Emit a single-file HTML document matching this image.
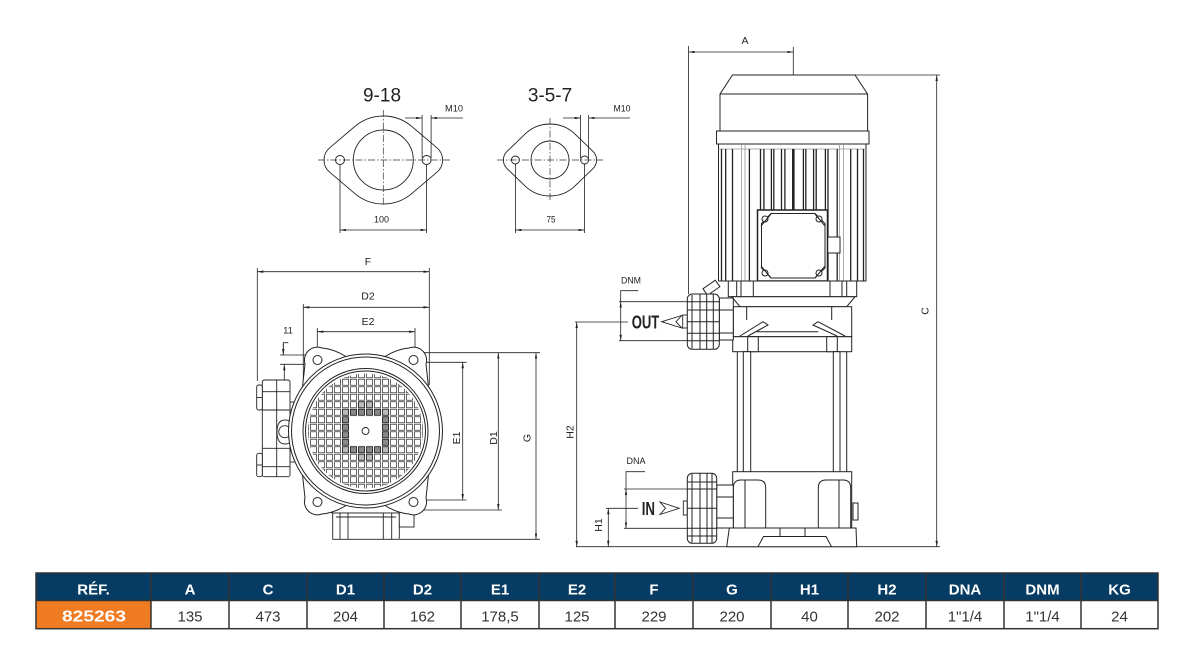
<!DOCTYPE html>
<html><head><meta charset="utf-8"><style>
html,body{margin:0;padding:0;background:#fff;}
svg{display:block;}
text{font-family:"Liberation Sans",sans-serif;}
</style></head><body>
<svg width="1191" height="662" viewBox="0 0 1191 662" xmlns="http://www.w3.org/2000/svg">
<defs>
<marker id="ar" viewBox="0 0 10 4" refX="10" refY="2" markerWidth="6" markerHeight="2.4" markerUnits="userSpaceOnUse" orient="auto-start-reverse"><path d="M0,0L10,2L0,4z" fill="#222"/></marker>
<pattern id="grid" x="349.5" y="416" width="8" height="7.5" patternUnits="userSpaceOnUse"><rect x="1" y="0.75" width="6" height="6" fill="#fff" stroke="#333" stroke-width="0.75"/></pattern>
<path id="lobe" d="M302.5,387 L305,364 A13,13 0 0 1 322,348 Q334,349 346,356.5" fill="#fff" stroke="#222" stroke-width="1"/>
</defs>
<rect width="1191" height="662" fill="#fff"/>

<!-- ============ FLANGES ============ -->
<g fill="none" stroke="#222" stroke-width="0.9">
  <path d="M329.65,147.8 L354.85,126.44 A44,44 0 0 1 411.75,126.44 L436.95,147.8 A16,16 0 0 1 436.95,172.2 L411.75,193.56 A44,44 0 0 1 354.85,193.56 L329.65,172.2 A16,16 0 0 1 329.65,147.8Z"/>
  <circle cx="383.3" cy="160" r="30"/>
  <circle cx="340" cy="160" r="4.5"/>
  <circle cx="426.6" cy="160" r="4.5"/>
  <path d="M507.08,151.36 L525.03,134.07 A36,36 0 0 1 574.97,134.07 L592.92,151.36 A12,12 0 0 1 592.92,168.64 L574.97,185.93 A36,36 0 0 1 525.03,185.93 L507.08,168.64 A12,12 0 0 1 507.08,151.36Z"/>
  <circle cx="550" cy="160" r="19"/>
  <circle cx="515.4" cy="160" r="4"/>
  <circle cx="584.6" cy="160" r="4"/>
</g>
<g fill="none" stroke="#333" stroke-width="0.7" stroke-dasharray="7,2,1.5,2">
  <line x1="318" y1="160" x2="450" y2="160"/>
  <line x1="383.3" y1="110" x2="383.3" y2="206"/>
  <line x1="497" y1="160" x2="603" y2="160"/>
  <line x1="550" y1="118" x2="550" y2="201"/>
</g>
<g fill="none" stroke="#222" stroke-width="0.8">
  <line x1="340" y1="164" x2="340" y2="233"/>
  <line x1="426.6" y1="164" x2="426.6" y2="233"/>
  <line x1="340" y1="230" x2="426.6" y2="230" marker-start="url(#ar)" marker-end="url(#ar)"/>
  <line x1="515.4" y1="164" x2="515.4" y2="233"/>
  <line x1="584.6" y1="164" x2="584.6" y2="233"/>
  <line x1="515.4" y1="230" x2="584.6" y2="230" marker-start="url(#ar)" marker-end="url(#ar)"/>
  <line x1="422.1" y1="115" x2="422.1" y2="158"/>
  <line x1="431.1" y1="115" x2="431.1" y2="158"/>
  <line x1="405" y1="118" x2="422.1" y2="118" marker-end="url(#ar)"/>
  <line x1="463" y1="118" x2="431.1" y2="118" marker-end="url(#ar)"/>
  <line x1="580.6" y1="115" x2="580.6" y2="158"/>
  <line x1="588.6" y1="115" x2="588.6" y2="158"/>
  <line x1="563" y1="118" x2="580.6" y2="118" marker-end="url(#ar)"/>
  <line x1="630" y1="118" x2="588.6" y2="118" marker-end="url(#ar)"/>
</g>
<g fill="#222">
  <text x="382" y="101.7" font-size="19" text-anchor="middle">9-18</text>
  <text x="550" y="101.7" font-size="19" text-anchor="middle">3-5-7</text>
  <text x="454" y="111.5" font-size="9" text-anchor="middle" textLength="18" lengthAdjust="spacingAndGlyphs">M10</text>
  <text x="622" y="111.5" font-size="9" text-anchor="middle" textLength="17" lengthAdjust="spacingAndGlyphs">M10</text>
  <text x="381.5" y="222.7" font-size="9.5" text-anchor="middle" textLength="15" lengthAdjust="spacingAndGlyphs">100</text>
  <text x="551" y="222.7" font-size="9.5" text-anchor="middle" textLength="9" lengthAdjust="spacingAndGlyphs">75</text>
</g>

<!-- ============ TOP VIEW ============ -->
<g fill="none" stroke="#222" stroke-width="0.8">
  <line x1="257.3" y1="268" x2="257.3" y2="381"/>
  <line x1="429.3" y1="268" x2="429.3" y2="385"/>
  <line x1="257.3" y1="271.7" x2="429.3" y2="271.7" marker-start="url(#ar)" marker-end="url(#ar)"/>
  <line x1="303.3" y1="304" x2="303.3" y2="390"/>
  <line x1="303.3" y1="307.3" x2="429.3" y2="307.3" marker-start="url(#ar)" marker-end="url(#ar)"/>
  <line x1="317.3" y1="328" x2="317.3" y2="352"/>
  <line x1="415" y1="328" x2="415" y2="352"/>
  <line x1="317.3" y1="331.7" x2="415" y2="331.7" marker-start="url(#ar)" marker-end="url(#ar)"/>
  <polyline points="288.3,342.7 283.3,342.7 283.3,355"/>
  <line x1="283.3" y1="344" x2="283.3" y2="355" marker-end="url(#ar)"/>
  <line x1="280" y1="355" x2="316.7" y2="355"/>
  <line x1="280" y1="364.3" x2="311.7" y2="364.3"/>
  <line x1="284.3" y1="380.7" x2="284.3" y2="364.3" marker-end="url(#ar)"/>
  <line x1="425" y1="362.3" x2="466.5" y2="362.3"/>
  <line x1="420" y1="500" x2="466.5" y2="500"/>
  <line x1="462.7" y1="362.3" x2="462.7" y2="500" marker-start="url(#ar)" marker-end="url(#ar)"/>
  <line x1="417" y1="352.7" x2="540" y2="352.7"/>
  <line x1="413" y1="510" x2="502" y2="510"/>
  <line x1="498.3" y1="352.7" x2="498.3" y2="510" marker-start="url(#ar)" marker-end="url(#ar)"/>
  <line x1="400" y1="539.3" x2="540" y2="539.3"/>
  <line x1="536" y1="352.7" x2="536" y2="539.3" marker-start="url(#ar)" marker-end="url(#ar)"/>
</g>
<g fill="#222" font-size="10.5">
  <text x="368" y="265" text-anchor="middle">F</text>
  <text x="368" y="299.5" text-anchor="middle">D2</text>
  <text x="368" y="325" text-anchor="middle">E2</text>
  <text x="288" y="333.3" text-anchor="middle" font-size="9.5">11</text>
  <text transform="translate(460,438) rotate(-90)" text-anchor="middle">E1</text>
  <text transform="translate(497,438) rotate(-90)" text-anchor="middle">D1</text>
  <text transform="translate(530.5,438) rotate(-90)" text-anchor="middle">G</text>
</g>
<g fill="#fff" stroke="#222" stroke-width="0.9">
  <rect x="331.7" y="505" width="70" height="8"/>
  <rect x="332.7" y="513" width="66.6" height="26.3"/>
  <rect x="399.3" y="510" width="14.7" height="17"/>
  <line x1="340" y1="513" x2="340" y2="539.3"/>
  <line x1="348" y1="513" x2="348" y2="539.3"/>
  <line x1="383.3" y1="513" x2="383.3" y2="539.3"/>
  <line x1="391.7" y1="513" x2="391.7" y2="539.3"/>
  <line x1="336" y1="517" x2="396" y2="517"/>
</g>
<g fill="#fff" stroke="#222" stroke-width="0.9">
  <rect x="290" y="402" width="6" height="60"/>
  <rect x="262.3" y="380" width="27.7" height="96.7" rx="2"/>
  <line x1="276.7" y1="380" x2="276.7" y2="476.7"/>
  <line x1="262.3" y1="391.7" x2="290" y2="391.7"/>
  <line x1="262.3" y1="410" x2="290" y2="410"/>
  <line x1="262.3" y1="448.3" x2="290" y2="448.3"/>
  <line x1="262.3" y1="466.7" x2="290" y2="466.7"/>
  <rect x="256.7" y="385" width="5.6" height="25" rx="2"/>
  <line x1="256.7" y1="397.5" x2="262.3" y2="397.5"/>
  <rect x="256.7" y="453.3" width="5.6" height="23.4" rx="2"/>
  <line x1="256.7" y1="465" x2="262.3" y2="465"/>
  <path d="M277,432 Q277,420 285,420 Q294,420 294,432 Q294,444 285,444 Q277,444 277,432Z"/>
  <circle cx="284.8" cy="431.7" r="6"/>
</g>
<use href="#lobe"/>
<use href="#lobe" transform="translate(731,0) scale(-1,1)"/>
<use href="#lobe" transform="translate(0,862) scale(1,-1)"/>
<use href="#lobe" transform="translate(731,862) scale(-1,-1)"/>
<g fill="#fff" stroke="#222" stroke-width="1">
  <circle cx="365.5" cy="431" r="77"/>
  <circle cx="365.5" cy="431" r="74" fill="none"/>
  <circle cx="365.5" cy="431" r="62.5" fill="none"/>
  <circle cx="365.5" cy="431" r="60" fill="none"/>
  <circle cx="317.5" cy="360" r="4.5"/>
  <circle cx="413.5" cy="360" r="4.5"/>
  <circle cx="317.5" cy="502" r="4.5"/>
  <circle cx="413.5" cy="502" r="4.5"/>
</g>
<circle cx="365.5" cy="431" r="57.5" fill="url(#grid)"/>
<g fill="#8a8a8a" stroke="#222" stroke-width="0.8">
  <rect x="350.5" y="409.25" width="6" height="6"/><rect x="358.5" y="409.25" width="6" height="6"/><rect x="366.5" y="409.25" width="6" height="6"/><rect x="374.5" y="409.25" width="6" height="6"/>
  <rect x="350.5" y="446.75" width="6" height="6"/><rect x="358.5" y="446.75" width="6" height="6"/><rect x="366.5" y="446.75" width="6" height="6"/><rect x="374.5" y="446.75" width="6" height="6"/>
  <rect x="342.5" y="416.75" width="6" height="6"/><rect x="342.5" y="424.25" width="6" height="6"/><rect x="342.5" y="431.75" width="6" height="6"/><rect x="342.5" y="439.25" width="6" height="6"/>
  <rect x="382.5" y="416.75" width="6" height="6"/><rect x="382.5" y="424.25" width="6" height="6"/><rect x="382.5" y="431.75" width="6" height="6"/><rect x="382.5" y="439.25" width="6" height="6"/>
</g>
<g fill="#bbb" stroke="#222" stroke-width="0.8">
  <rect x="342.5" y="409.25" width="6" height="6"/><rect x="382.5" y="409.25" width="6" height="6"/>
  <rect x="342.5" y="446.75" width="6" height="6"/><rect x="382.5" y="446.75" width="6" height="6"/>
  <rect x="358.5" y="401.75" width="6" height="6"/><rect x="366.5" y="401.75" width="6" height="6"/>
  <rect x="358.5" y="454.25" width="6" height="6"/><rect x="366.5" y="454.25" width="6" height="6"/>
</g>
<rect x="349.8" y="416.2" width="31.4" height="29.6" fill="#fff"/>
<circle cx="365.5" cy="431" r="3.5" fill="#fff" stroke="#222" stroke-width="0.9"/>

<!-- ============ SIDE VIEW ============ -->
<g fill="none" stroke="#222" stroke-width="0.8">
  <line x1="688.6" y1="46" x2="688.6" y2="294"/>
  <line x1="793.3" y1="47" x2="793.3" y2="75"/>
  <line x1="688.6" y1="52" x2="793.3" y2="52" marker-start="url(#ar)" marker-end="url(#ar)"/>
  <line x1="855" y1="75" x2="940" y2="75"/>
  <line x1="936.7" y1="75" x2="936.7" y2="546.7" marker-start="url(#ar)" marker-end="url(#ar)"/>
  <line x1="576" y1="546.7" x2="940" y2="546.7"/>
  <line x1="575" y1="322" x2="628" y2="322"/>
  <line x1="576.7" y1="322" x2="576.7" y2="546.7" marker-start="url(#ar)" marker-end="url(#ar)"/>
  <line x1="606" y1="508.3" x2="638" y2="508.3"/>
  <line x1="608.3" y1="508.3" x2="608.3" y2="546.7" marker-start="url(#ar)" marker-end="url(#ar)"/>
  <polyline points="638.3,290.7 620.7,290.7 620.7,301.7"/>
  <line x1="620.7" y1="301.7" x2="620.7" y2="340.7" marker-start="url(#ar)" marker-end="url(#ar)"/>
  <line x1="619" y1="301.7" x2="688" y2="301.7"/>
  <line x1="619" y1="340.7" x2="688" y2="340.7"/>
  <polyline points="645,471.7 626,471.7 626,489"/>
  <line x1="626" y1="489" x2="626" y2="528.3" marker-start="url(#ar)" marker-end="url(#ar)"/>
  <line x1="624" y1="489" x2="688" y2="489"/>
  <line x1="624" y1="528.3" x2="688" y2="528.3"/>
</g>
<g fill="#222" font-size="10.5">
  <text x="745" y="44.2" text-anchor="middle">A</text>
  <text transform="translate(928.5,311) rotate(-90)" text-anchor="middle">C</text>
  <text transform="translate(573.3,432) rotate(-90)" text-anchor="middle">H2</text>
  <text transform="translate(602,525) rotate(-90)" text-anchor="middle">H1</text>
  <text x="631" y="283.3" font-size="9.5" text-anchor="middle" textLength="20" lengthAdjust="spacingAndGlyphs">DNM</text>
  <text x="636" y="464" font-size="9.5" text-anchor="middle" textLength="19" lengthAdjust="spacingAndGlyphs">DNA</text>
  <text x="631.7" y="328.4" font-size="18" font-weight="bold" textLength="27.6" lengthAdjust="spacingAndGlyphs">OUT</text>
  <text x="641.7" y="515" font-size="18" font-weight="bold" textLength="13.3" lengthAdjust="spacingAndGlyphs">IN</text>
</g>
<g fill="#fff" stroke="#222" stroke-width="0.9">
  <polygon points="661.7,321.7 681.7,315.5 676,321.7 681.7,328"/>
  <rect x="682.7" y="315" width="4.6" height="13"/>
  <polygon points="679.3,508.3 660,502 665.5,508.3 660,514.5"/>
  <rect x="683.3" y="501" width="4" height="14"/>
</g>
<g fill="#fff" stroke="#222" stroke-width="1">
  <path d="M732.5,75 L855,75 L867.6,94 L867.6,131 L720,131 L720,94 Z"/>
  <line x1="720" y1="94" x2="867.6" y2="94"/>
  <rect x="716.5" y="131" width="152.5" height="13"/>
  <rect x="718.5" y="144" width="147.5" height="137"/>
</g>
<g stroke="#999" stroke-width="0.8">
  <line x1="741.5" y1="144" x2="741.5" y2="281"/><line x1="745" y1="144" x2="745" y2="281"/>
  <line x1="839.5" y1="144" x2="839.5" y2="281"/><line x1="843.5" y1="144" x2="843.5" y2="281"/>
  <line x1="718.5" y1="149" x2="866" y2="149"/>
</g>
<g stroke="#222" stroke-width="1.3">
  <line x1="721.5" y1="149" x2="721.5" y2="281"/>
  <line x1="725.7" y1="149" x2="725.7" y2="281"/>
  <line x1="732.5" y1="149" x2="732.5" y2="281"/>
  <line x1="749.4" y1="149" x2="749.4" y2="281"/>
  <line x1="760.5" y1="149" x2="760.5" y2="281"/>
  <line x1="763.9" y1="149" x2="763.9" y2="281"/>
  <line x1="771.4" y1="149" x2="771.4" y2="281"/>
  <line x1="773.8" y1="149" x2="773.8" y2="281"/>
  <line x1="781.5" y1="149" x2="781.5" y2="281"/>
  <line x1="784.9" y1="149" x2="784.9" y2="281"/>
  <line x1="793.3" y1="149" x2="793.3" y2="281" stroke-width="2.6"/>
  <line x1="803.4" y1="149" x2="803.4" y2="281"/>
  <line x1="805.8" y1="149" x2="805.8" y2="281"/>
  <line x1="813.6" y1="149" x2="813.6" y2="281"/>
  <line x1="816.2" y1="149" x2="816.2" y2="281"/>
  <line x1="825.4" y1="149" x2="825.4" y2="281"/>
  <line x1="828" y1="149" x2="828" y2="281"/>
  <line x1="837.2" y1="149" x2="837.2" y2="281"/>
  <line x1="850.7" y1="149" x2="850.7" y2="281"/>
  <line x1="857.5" y1="149" x2="857.5" y2="281"/>
  <line x1="863.5" y1="149" x2="863.5" y2="281"/>
</g>
<g fill="#fff" stroke="#222" stroke-width="1">
  <rect x="827.5" y="237" width="12.5" height="16"/>
  <rect x="757.5" y="210" width="70" height="71" stroke-width="1.5"/>
  <path d="M771,213.5 H815 L825,223.5 V268 L815,278 H771 L761.5,268 V223.5 Z"/>
  <circle cx="765" cy="219" r="3"/><circle cx="819" cy="219" r="3"/>
  <circle cx="765" cy="273" r="3"/><circle cx="819" cy="273" r="3"/>
  <line x1="761" y1="226" x2="771" y2="214"/><line x1="825" y1="226" x2="815" y2="214"/>
  <line x1="761" y1="266" x2="771" y2="278"/><line x1="825" y1="266" x2="815" y2="278"/>
</g>
<g fill="#fff" stroke="#222" stroke-width="1">
  <rect x="728.3" y="281" width="128.4" height="15.7"/>
  <rect x="736.7" y="281" width="16.6" height="15.7"/>
  <rect x="830" y="281" width="16.7" height="15.7"/>
  <line x1="741" y1="281" x2="741" y2="296.7"/><line x1="842" y1="281" x2="842" y2="296.7"/>
  <path d="M731.7,296.7 L855,296.7 L846.7,306.7 L740,306.7 Z"/>
  <rect x="733.3" y="306.7" width="118.4" height="30"/>
  <line x1="746.7" y1="306.7" x2="746.7" y2="320"/>
  <line x1="831.7" y1="306.7" x2="831.7" y2="320"/>
  <line x1="756.7" y1="331.7" x2="818.3" y2="331.7"/>
  <path d="M740,336 L763,321.7 L768,325 L748,336"/>
  <path d="M845,336 L818,321.7 L813,325 L837,336"/>
  <rect x="732.7" y="336.7" width="119" height="15"/>
  <rect x="747.7" y="336.7" width="10.6" height="15"/>
  <rect x="826.7" y="336.7" width="10.6" height="15"/>
  <line x1="737.3" y1="351.7" x2="737.3" y2="471.7"/>
  <line x1="846.7" y1="351.7" x2="846.7" y2="471.7"/>
  <rect x="743.3" y="351.7" width="7.4" height="128.3"/>
  <rect x="833.3" y="351.7" width="6.7" height="128.3"/>
  <rect x="732.7" y="471.7" width="119" height="56.3"/>
  <path d="M733.3,528 V488 Q733.3,480 741,480 H758 Q765.7,480 765.7,488 V528"/>
  <path d="M818.3,528 V488 Q818.3,480 826,480 H843 Q850.7,480 850.7,488 V528"/>
  <line x1="745" y1="480" x2="745" y2="528"/>
  <line x1="839" y1="480" x2="839" y2="528"/>
  <path d="M729.3,528 H856 L856.7,546.7 H726.7 Z"/>
  <path d="M758,546.7 L763.5,536.5 H826 L831.5,546.7" fill="none"/>
  <line x1="780" y1="528" x2="780" y2="536.5"/>
  <line x1="805" y1="528" x2="805" y2="536.5"/>
  <rect x="853" y="503" width="5" height="17"/>
</g>
<g fill="#fff" stroke="#222" stroke-width="1">
  <rect x="719.3" y="298" width="14" height="42"/>
  <line x1="719.3" y1="310" x2="733.3" y2="310"/><line x1="719.3" y1="333" x2="733.3" y2="333"/>
  <rect x="-7" y="-4" width="15" height="8" transform="translate(711,288) rotate(-35)"/>
  <rect x="687.3" y="294" width="32" height="55.3" rx="5"/>
  <line x1="692" y1="295" x2="692" y2="348.5"/>
  <line x1="700" y1="294" x2="700" y2="349.3"/>
  <line x1="706.7" y1="294" x2="706.7" y2="349.3"/>
  <line x1="713.3" y1="294.5" x2="713.3" y2="349"/>
  <line x1="687.3" y1="301.7" x2="719.3" y2="301.7"/>
  <line x1="687.3" y1="310" x2="719.3" y2="310"/>
  <line x1="687.3" y1="321.7" x2="719.3" y2="321.7"/>
  <line x1="687.3" y1="333.3" x2="719.3" y2="333.3"/>
  <line x1="687.3" y1="340.7" x2="719.3" y2="340.7"/>
</g>
<g fill="#fff" stroke="#222" stroke-width="1">
  <rect x="716.7" y="485" width="16.6" height="43"/>
  <line x1="716.7" y1="497" x2="733.3" y2="497"/><line x1="716.7" y1="518" x2="733.3" y2="518"/>
  <rect x="687.3" y="473.3" width="29.4" height="70" rx="5"/>
  <line x1="692" y1="474" x2="692" y2="542.5"/>
  <line x1="700" y1="473.3" x2="700" y2="543.3"/>
  <line x1="707" y1="473.3" x2="707" y2="543.3"/>
  <line x1="712" y1="473.5" x2="712" y2="543"/>
  <line x1="687.3" y1="482" x2="716.7" y2="482"/>
  <line x1="687.3" y1="489" x2="716.7" y2="489"/>
  <line x1="687.3" y1="508.3" x2="716.7" y2="508.3"/>
  <line x1="687.3" y1="528.3" x2="716.7" y2="528.3"/>
  <line x1="687.3" y1="536" x2="716.7" y2="536"/>
</g>

<!-- ============ TABLE ============ -->
<rect x="36" y="573" width="1122" height="27.5" fill="#063c63"/>
<rect x="36" y="600.5" width="115" height="28.2" fill="#ef7b23"/>
<g stroke="#333" stroke-width="1.5" fill="none">
  <rect x="36" y="573" width="1122" height="55.7"/>
  <line x1="36" y1="600.5" x2="1158" y2="600.5"/>
  <line x1="151" y1="573" x2="151" y2="628.7"/>
  <line x1="229" y1="573" x2="229" y2="628.7"/>
  <line x1="307" y1="573" x2="307" y2="628.7"/>
  <line x1="384" y1="573" x2="384" y2="628.7"/>
  <line x1="461" y1="573" x2="461" y2="628.7"/>
  <line x1="539" y1="573" x2="539" y2="628.7"/>
  <line x1="615" y1="573" x2="615" y2="628.7"/>
  <line x1="693" y1="573" x2="693" y2="628.7"/>
  <line x1="771" y1="573" x2="771" y2="628.7"/>
  <line x1="848" y1="573" x2="848" y2="628.7"/>
  <line x1="926" y1="573" x2="926" y2="628.7"/>
  <line x1="1004" y1="573" x2="1004" y2="628.7"/>
  <line x1="1081" y1="573" x2="1081" y2="628.7"/>
</g>
<g fill="#fff" font-size="15" font-weight="bold" text-anchor="middle">
  <text x="93.5" y="594.7">RÉF.</text>
  <text x="190" y="594.7">A</text>
  <text x="268" y="594.7">C</text>
  <text x="345.5" y="594.7">D1</text>
  <text x="422.5" y="594.7">D2</text>
  <text x="500" y="594.7">E1</text>
  <text x="577" y="594.7">E2</text>
  <text x="654" y="594.7">F</text>
  <text x="732" y="594.7">G</text>
  <text x="809.5" y="594.7">H1</text>
  <text x="887" y="594.7">H2</text>
  <text x="965" y="594.7">DNA</text>
  <text x="1042.5" y="594.7">DNM</text>
  <text x="1119.5" y="594.7">KG</text>
  <text x="94" y="621.3" font-size="16" textLength="64" lengthAdjust="spacingAndGlyphs">825263</text>
</g>
<g fill="#333" font-size="15" text-anchor="middle">
  <text x="190" y="621.3">135</text>
  <text x="268" y="621.3">473</text>
  <text x="345.5" y="621.3">204</text>
  <text x="422.5" y="621.3">162</text>
  <text x="500" y="621.3">178,5</text>
  <text x="577" y="621.3">125</text>
  <text x="654" y="621.3">229</text>
  <text x="732" y="621.3">220</text>
  <text x="809.5" y="621.3">40</text>
  <text x="887" y="621.3">202</text>
  <text x="965" y="621.3">1"1/4</text>
  <text x="1042.5" y="621.3">1"1/4</text>
  <text x="1119.5" y="621.3">24</text>
</g>
</svg>
</body></html>
